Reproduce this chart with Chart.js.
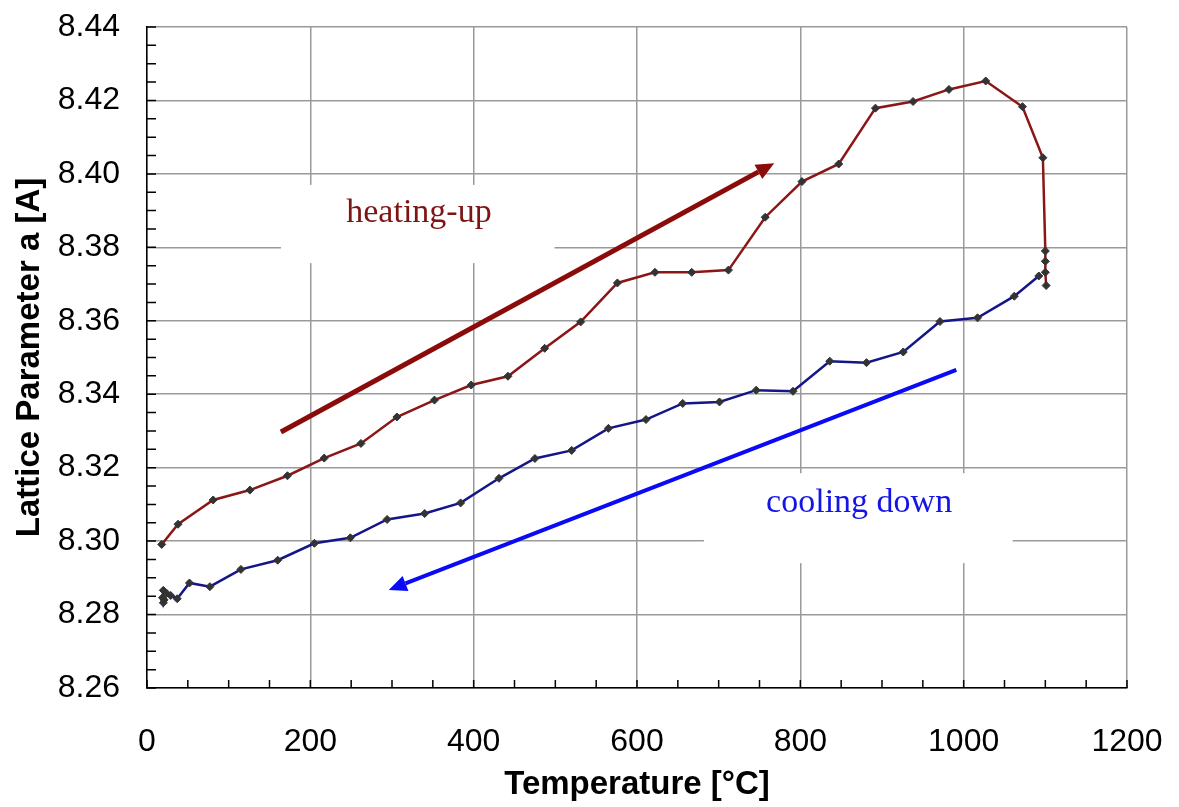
<!DOCTYPE html>
<html>
<head>
<meta charset="utf-8">
<script src="https://cdn.jsdelivr.net/npm/chart.js@4.4.0/dist/chart.umd.min.js"></script>
<style>
  html, body { margin: 0; padding: 0; background: #fff; }
  #wrap { width: 1179px; height: 807px; }
</style>
</head>
<body>
<div id="wrap"><canvas id="chart" width="1179" height="807"></canvas></div>
<script>
// heating-up run (temperature in °C, lattice parameter in A)
const heatT = [18, 38, 81, 126, 172, 217, 262, 306, 352, 397, 442, 487, 531, 576, 622, 667, 712, 757, 802, 847, 892, 938, 982, 1027, 1072, 1097, 1100, 1100, 1100, 1101];
const heatA = [8.2991, 8.3046, 8.3112, 8.3139, 8.3178, 8.3226, 8.3266, 8.3338, 8.3384, 8.3425, 8.3449, 8.3525, 8.3597, 8.3703, 8.3732, 8.3732, 8.3738, 8.3882, 8.3979, 8.4027, 8.4179, 8.4197, 8.4230, 8.4253, 8.4183, 8.4044, 8.3790, 8.3762, 8.3732, 8.3696];

// cooling-down run
const coolT = [1092, 1062, 1017, 971, 926, 881, 836, 791, 746, 701, 656, 611, 565, 520, 475, 431, 384, 340, 294, 249, 205, 160, 115, 77, 52, 37, 29, 24, 20, 19, 20, 21];
const coolA = [8.3722, 8.3667, 8.3608, 8.3598, 8.3515, 8.3486, 8.3490, 8.3408, 8.3411, 8.3379, 8.3375, 8.3331, 8.3307, 8.3247, 8.3225, 8.3171, 8.3104, 8.3075, 8.3059, 8.3009, 8.2994, 8.2948, 8.2923, 8.2876, 8.2886, 8.2843, 8.2852, 8.2858, 8.2866, 8.2846, 8.2832, 8.2840];

// annotations (data units)
const heatArrow = [[164, 8.3297], [768, 8.4029]];
const coolArrow = [[991, 8.3466], [296, 8.2867]];
const heatLabel = { text: 'heating-up', x: 333, y: 8.3893, box: [164, 499, 8.397, 8.3757] };
const coolLabel = { text: 'cooling down', x: 872, y: 8.3104, box: [682, 1060, 8.3185, 8.294] };

const toPoints = (xs, ys) => xs.map((x, i) => ({ x: x, y: ys[i] }));

const RED = '#8b1616';
const NAVY = '#15158a';

function arrow(ctx, x1, y1, x2, y2, color, width, head) {
    const ang = Math.atan2(y2 - y1, x2 - x1);
    const bx = x2 - head * Math.cos(ang);
    const by = y2 - head * Math.sin(ang);
    ctx.save();
    ctx.strokeStyle = color;
    ctx.fillStyle = color;
    ctx.lineWidth = width;
    ctx.beginPath();
    ctx.moveTo(x1, y1);
    ctx.lineTo(bx, by);
    ctx.stroke();
    ctx.beginPath();
    ctx.moveTo(x2, y2);
    ctx.lineTo(bx + head * 0.45 * Math.sin(ang), by - head * 0.45 * Math.cos(ang));
    ctx.lineTo(bx - head * 0.45 * Math.sin(ang), by + head * 0.45 * Math.cos(ang));
    ctx.closePath();
    ctx.fill();
    ctx.restore();
}

const decorations = {
    id: 'decorations',
    beforeDatasetsDraw(chart) {
        const { ctx, scales: { x, y }, chartArea } = chart;
        ctx.save();
        // white label boxes over the grid
        ctx.fillStyle = '#fff';
        [heatLabel, coolLabel].forEach(l => {
            const x0 = x.getPixelForValue(l.box[0]), x1 = x.getPixelForValue(l.box[1]);
            const y0 = y.getPixelForValue(l.box[2]), y1 = y.getPixelForValue(l.box[3]);
            ctx.fillRect(x0, y0, x1 - x0, y1 - y0);
        });
        // inward minor ticks
        ctx.strokeStyle = '#000';
        ctx.lineWidth = 1.5;
        ctx.beginPath();
        for (let v = 0; v <= 1200; v += 50) {
            const px = x.getPixelForValue(v);
            ctx.moveTo(px, chartArea.bottom);
            ctx.lineTo(px, chartArea.bottom - 8);
        }
        for (let i = 0; i <= 36; i++) {
            const py = y.getPixelForValue(8.26 + i * 0.005);
            ctx.moveTo(chartArea.left, py);
            ctx.lineTo(chartArea.left + 9, py);
        }
        ctx.stroke();
        // labels
        ctx.font = '34px "Liberation Serif", serif';
        ctx.textAlign = 'center';
        ctx.textBaseline = 'middle';
        ctx.fillStyle = '#7f1414';
        ctx.fillText(heatLabel.text, x.getPixelForValue(heatLabel.x), y.getPixelForValue(heatLabel.y));
        ctx.fillStyle = '#1414e6';
        ctx.fillText(coolLabel.text, x.getPixelForValue(coolLabel.x), y.getPixelForValue(coolLabel.y));
        ctx.restore();
        // arrows
        arrow(ctx, x.getPixelForValue(heatArrow[0][0]), y.getPixelForValue(heatArrow[0][1]),
            x.getPixelForValue(heatArrow[1][0]), y.getPixelForValue(heatArrow[1][1]), '#8b0a0a', 5, 18);
        arrow(ctx, x.getPixelForValue(coolArrow[0][0]), y.getPixelForValue(coolArrow[0][1]),
            x.getPixelForValue(coolArrow[1][0]), y.getPixelForValue(coolArrow[1][1]), '#0a0af5', 4, 18);
    }
};

const tickFont = { family: '"Liberation Sans", Arial, sans-serif', size: 32 };
const titleFont = { family: '"Liberation Sans", Arial, sans-serif', size: 33, weight: 'bold' };

new Chart(document.getElementById('chart').getContext('2d'), {
    type: 'scatter',
    data: {
        datasets: [{
            label: 'heating-up',
            data: toPoints(heatT, heatA),
            borderColor: RED,
            borderWidth: 2.5,
            showLine: true,
            fill: false,
            pointStyle: 'rectRot',
            pointRadius: 4,
            pointBackgroundColor: '#333',
            pointBorderColor: '#333',
            pointBorderWidth: 1
        }, {
            label: 'cooling down',
            data: toPoints(coolT, coolA),
            borderColor: NAVY,
            borderWidth: 2.5,
            showLine: true,
            fill: false,
            pointStyle: 'rectRot',
            pointRadius: 4,
            pointBackgroundColor: '#333',
            pointBorderColor: '#333',
            pointBorderWidth: 1
        }]
    },
    options: {
        responsive: false,
        animation: false,
        layout: { padding: { top: 27, right: 52, left: 0, bottom: 0 } },
        plugins: {
            legend: { display: false },
            tooltip: { enabled: false }
        },
        scales: {
            x: {
                type: 'linear',
                min: 0,
                max: 1200,
                ticks: { stepSize: 200, color: '#000', font: tickFont, padding: 35, maxRotation: 0, callback: v => String(v) },
                grid: { color: '#9a9a9a', lineWidth: 1.5, drawTicks: false },
                border: { color: '#000', width: 1.5 },
                title: { display: true, text: 'Temperature [°C]', color: '#000', font: titleFont, padding: { top: 0, bottom: 2 } },
                afterFit(scale) {
                    scale.height = 119;
                    scale.paddingLeft = 0;
                    scale.paddingRight = 0;
                }
            },
            y: {
                type: 'linear',
                min: 8.26,
                max: 8.44,
                ticks: { stepSize: 0.02, color: '#000', font: tickFont, padding: 27, callback: v => v.toFixed(2) },
                grid: { color: '#9a9a9a', lineWidth: 1.5, drawTicks: false },
                border: { color: '#000', width: 1.5 },
                title: { display: true, text: 'Lattice Parameter a [A]', color: '#000', font: titleFont, padding: { top: 10, bottom: 0 } },
                afterFit(scale) {
                    scale.width = 147;
                    scale.paddingTop = 0;
                    scale.paddingBottom = 0;
                }
            }
        }
    },
    plugins: [decorations]
});
</script>
</body>
</html>
